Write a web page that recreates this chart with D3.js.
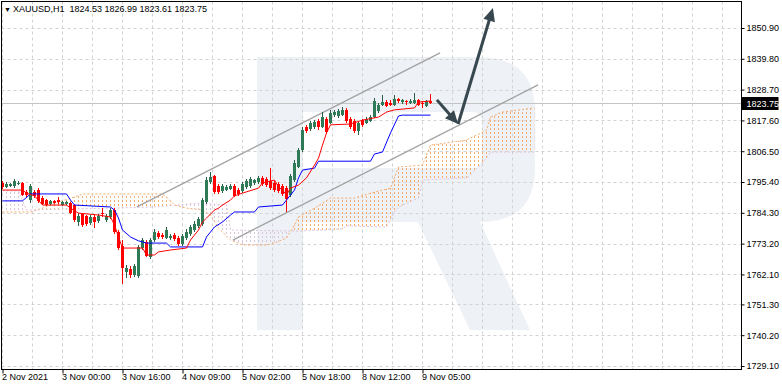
<!DOCTYPE html>
<html>
<head>
<meta charset="utf-8">
<script src="https://cdnjs.cloudflare.com/ajax/libs/d3/7.8.5/d3.min.js"></script>
<style>
  html, body { margin: 0; padding: 0; background: #fff; }
  svg { display: block; font-family: "Liberation Sans", Arial, sans-serif; }
</style>
</head>
<body>
<svg id="canvas" width="782" height="389"></svg>
<script>
// XAUUSD H1 candles, 2 Nov 2021 .. 9 Nov 2021
let opens = [
  1795.1, 1793.6, 1794.0, 1794.0, 1794.7, 1795.1, 1791.8, 1788.9, 1791.8, 1792.5,
  1789.6, 1788.9, 1787.5, 1788.6, 1788.9, 1787.1, 1787.5, 1787.8, 1787.1, 1781.0,
  1783.9, 1783.2, 1780.6, 1782.8, 1781.4, 1784.2, 1781.7, 1782.8, 1785.3, 1777.4,
  1772.3, 1763.0, 1764.1, 1761.9, 1761.5, 1771.6, 1773.8, 1768.4, 1774.5, 1777.0,
  1776.3, 1775.2, 1775.2, 1776.3, 1775.2, 1773.1, 1775.2, 1776.7, 1778.1, 1779.6,
  1780.3, 1788.2, 1795.4, 1797.6, 1794.0, 1792.2, 1792.5, 1792.9, 1794.0, 1792.5,
  1792.2, 1793.6, 1794.0, 1795.1, 1795.4, 1796.9, 1796.5, 1795.8, 1795.1, 1794.7,
  1794.0, 1793.2, 1790.7, 1796.1, 1800.8, 1806.9, 1815.2, 1814.5, 1815.2, 1817.4,
  1815.2, 1818.1, 1816.7, 1819.6, 1819.2, 1819.6, 1821.4, 1818.1, 1817.4, 1813.8,
  1817.7, 1816.7, 1817.4, 1818.8, 1821.0, 1823.2, 1824.2, 1823.9, 1823.2, 1825.3,
  1824.2, 1824.6, 1823.9, 1823.9, 1825.0, 1823.9, 1822.8, 1824.53
];
let highs = [
  1795.8, 1795.4, 1795.1, 1796.5, 1795.8, 1795.4, 1792.5, 1794.7, 1792.5, 1793.2,
  1790.4, 1789.3, 1788.9, 1788.9, 1790.0, 1788.6, 1788.6, 1788.2, 1787.5, 1784.2,
  1784.2, 1783.5, 1783.5, 1783.9, 1783.9, 1786.0, 1783.9, 1786.0, 1786.0, 1778.1,
  1774.5, 1765.5, 1765.1, 1765.9, 1772.7, 1775.2, 1774.5, 1775.2, 1778.5, 1777.7,
  1777.0, 1779.2, 1776.7, 1777.0, 1775.9, 1776.7, 1778.5, 1779.9, 1781.4, 1782.8,
  1789.6, 1797.2, 1799.0, 1797.9, 1794.7, 1794.7, 1794.3, 1794.7, 1794.7, 1793.2,
  1795.4, 1796.5, 1797.2, 1796.5, 1797.6, 1797.6, 1797.2, 1800.5, 1795.8, 1795.4,
  1794.7, 1794.0, 1798.3, 1803.3, 1807.7, 1815.2, 1815.9, 1817.4, 1817.7, 1818.1,
  1820.6, 1818.8, 1821.4, 1821.4, 1821.7, 1822.4, 1822.1, 1818.8, 1818.1, 1817.4,
  1818.1, 1818.8, 1819.6, 1825.7, 1823.9, 1826.8, 1825.0, 1825.0, 1826.8, 1825.7,
  1825.3, 1825.0, 1825.3, 1827.5, 1825.3, 1824.6, 1825.0, 1826.99
];
let lows = [
  1792.9, 1793.2, 1793.6, 1793.2, 1794.3, 1790.4, 1790.0, 1787.8, 1789.6, 1787.8,
  1787.1, 1786.8, 1787.1, 1787.5, 1787.5, 1786.8, 1787.1, 1783.9, 1781.0, 1779.6,
  1779.2, 1779.6, 1779.9, 1778.8, 1780.6, 1782.8, 1781.0, 1782.1, 1776.7, 1770.9,
  1758.7, 1760.8, 1760.8, 1761.2, 1760.8, 1770.9, 1768.4, 1767.7, 1773.8, 1774.9,
  1774.9, 1774.9, 1774.5, 1774.1, 1772.3, 1772.3, 1774.5, 1775.9, 1777.4, 1778.8,
  1779.6, 1787.5, 1794.7, 1791.1, 1791.1, 1791.4, 1792.2, 1792.5, 1790.0, 1790.4,
  1791.4, 1792.9, 1793.2, 1794.3, 1794.7, 1794.0, 1793.6, 1792.5, 1791.8, 1791.4,
  1790.4, 1784.6, 1790.0, 1795.4, 1800.5, 1806.2, 1813.1, 1813.8, 1814.5, 1814.1,
  1814.9, 1812.7, 1816.3, 1818.8, 1818.5, 1819.2, 1816.7, 1814.5, 1813.1, 1812.3,
  1815.2, 1816.3, 1817.0, 1818.5, 1820.3, 1822.8, 1822.4, 1822.8, 1822.8, 1823.9,
  1823.5, 1823.2, 1823.5, 1823.5, 1822.8, 1822.1, 1822.4, 1823.61
];
let closes = [
  1793.6, 1794.7, 1794.7, 1795.8, 1795.1, 1790.7, 1790.7, 1794.0, 1790.4, 1788.6,
  1787.5, 1787.1, 1788.6, 1787.8, 1788.2, 1788.2, 1788.2, 1784.2, 1781.7, 1783.2,
  1779.9, 1780.3, 1782.8, 1781.0, 1783.2, 1783.9, 1783.2, 1785.3, 1777.4, 1771.6,
  1764.4, 1764.4, 1761.9, 1765.1, 1772.0, 1774.5, 1768.7, 1774.5, 1777.4, 1775.6,
  1775.6, 1778.1, 1775.9, 1774.9, 1773.1, 1775.9, 1777.4, 1779.2, 1780.3, 1782.1,
  1788.9, 1796.1, 1797.2, 1791.8, 1791.8, 1794.0, 1793.6, 1794.0, 1790.4, 1791.1,
  1794.7, 1795.8, 1796.5, 1796.1, 1796.9, 1794.7, 1794.3, 1793.2, 1792.5, 1792.2,
  1791.1, 1789.3, 1797.6, 1802.3, 1806.9, 1814.1, 1813.8, 1816.7, 1817.0, 1815.2,
  1818.8, 1813.4, 1820.3, 1820.6, 1821.0, 1821.4, 1817.4, 1815.2, 1813.8, 1816.7,
  1816.0, 1818.1, 1818.8, 1824.6, 1823.2, 1824.2, 1822.8, 1823.2, 1825.3, 1824.6,
  1825.0, 1824.2, 1824.6, 1825.0, 1823.2, 1823.5, 1824.6, 1823.75
];

// Ichimoku lines as [bar, price] vertices
let tenkan = [
  [0, 1792.5], [5, 1792.5], [6, 1791.4], [8, 1790.4], [10, 1787.1], [16, 1787.1], [17, 1786.0],
  [19, 1784.2], [24, 1783.5], [27, 1782.8], [28, 1779.9], [29, 1775.6], [30, 1771.6], [35, 1771.6],
  [36, 1769.1], [38, 1769.1], [39, 1770.2], [42, 1770.9], [46, 1771.6], [47, 1774.5], [49, 1778.1],
  [50, 1781.0], [51, 1782.4], [53, 1785.3], [54, 1786.0], [55, 1787.1], [57, 1788.9], [58, 1790.4],
  [60, 1791.4], [64, 1793.2], [65, 1795.1], [68, 1796.1], [69, 1793.6], [70, 1792.5], [71, 1790.7],
  [72, 1793.2], [74, 1794.3], [76, 1796.9], [78, 1801.5], [79, 1804.0], [80, 1808.7], [81, 1813.1],
  [82, 1816.0], [87, 1816.3], [90, 1817.7], [94, 1818.8], [96, 1820.6], [98, 1821.4], [103, 1822.1],
  [104, 1824.2], [107, 1824.6]
];
let kijun = [
  [0, 1788.6], [5, 1788.6], [7, 1791.1], [16, 1791.1], [17, 1788.9], [18, 1787.1], [27, 1786.4],
  [28, 1785.3], [29, 1782.4], [30, 1778.1], [32, 1775.6], [34, 1774.2], [36, 1773.4], [41, 1773.4],
  [42, 1772.0], [50, 1772.0], [51, 1775.6], [52, 1777.4], [53, 1779.2], [55, 1781.0], [57, 1783.5],
  [58, 1784.6], [63, 1784.6], [64, 1786.4], [70, 1787.1], [71, 1788.9], [73, 1792.5], [74, 1796.9],
  [75, 1799.7], [78, 1800.4], [79, 1802.9], [92, 1802.9], [93, 1805.5], [95, 1806.2], [97, 1813.1],
  [99, 1819.2], [100, 1819.5], [107, 1819.5]
];
let spanA = [
  [0, 1784.6], [7, 1784.6], [10, 1786.0], [14, 1788.2], [18, 1790.0], [20, 1791.1], [40, 1791.1],
  [41, 1790.0], [43, 1787.1], [46, 1786.0], [50, 1785.3], [52, 1783.5], [54, 1778.8], [57, 1774.5],
  [60, 1772.7], [66, 1772.7], [68, 1773.4], [71, 1775.2], [73, 1779.9], [74, 1782.8], [78, 1786.0],
  [82, 1789.6], [88, 1789.6], [92, 1791.4], [97, 1793.2], [99, 1800.8], [105, 1801.5], [107, 1808.7],
  [116, 1810.5], [117, 1811.3], [121, 1814.0], [122, 1818.8], [125, 1820.6], [133, 1822.1]
];
let spanB = [
  [0, 1792.2], [4, 1792.2], [6, 1785.3], [27, 1786.0], [38, 1786.4], [49, 1787.8], [56, 1787.1],
  [57, 1778.1], [74, 1777.7], [85, 1778.5], [86, 1779.6], [96, 1779.2], [98, 1784.6], [99, 1786.4],
  [104, 1789.6], [105, 1796.1], [116, 1796.9], [117, 1797.9], [121, 1804.0], [122, 1806.2], [133, 1806.2]
];

// channel and forecast arrows, [bar, price]
let channelUpper = [[33.6, 1786.4], [109.4, 1841.9]];
let channelLower = [[57.6, 1774.5], [133.9, 1830.4]];
let arrowDown = [[108.6, 1825.0], [113.9, 1816.3]];
let arrowUp = [[113.9, 1816.3], [122.6, 1858.1]];

let priceTicks = [1850.90, 1839.80, 1828.70, 1817.60, 1806.50, 1795.40, 1784.30, 1773.20, 1762.10, 1751.30, 1740.20, 1729.10];
let timeTickBars = [0, 15, 30, 45, 60, 75, 90, 105];
let timeLabels = ["2 Nov 2021", "3 Nov 00:00", "3 Nov 16:00", "4 Nov 09:00", "5 Nov 02:00", "5 Nov 18:00", "8 Nov 12:00", "9 Nov 05:00"];

let plot = { left: 1.5, top: 1.5, right: 741.5, bottom: 369.5 };
let bullColor = "#2f7a56";
let bearColor = "#ff0000";
let arrowColor = "#37474f";

let xScale = d3.scaleLinear().domain([0, 100]).range([2.5, 402.5]);
let yScale = d3.scaleLinear().domain([1729.1, 1850.9]).range([366, 28]);

let svg = d3.select("#canvas");
let defs = svg.append("defs");

defs.append("clipPath").attr("id", "plotClip")
  .append("rect")
  .attr("x", plot.left).attr("y", plot.top)
  .attr("width", plot.right - plot.left).attr("height", plot.bottom - plot.top);

// kumo is drawn MT4 style: a dotted column for every bar
let makePattern = (id, color) => {
  let p = defs.append("pattern")
    .attr("id", id)
    .attr("patternUnits", "userSpaceOnUse")
    .attr("width", 4).attr("height", 4);
  p.append("rect").attr("x", 2).attr("y", 0).attr("width", 1).attr("height", 2).attr("fill", color);
};
makePattern("kumoUp", "#f5ab6c");
makePattern("kumoDown", "#dcc4dc");

let areaBelow = d3.area().x((d) => xScale(d[0])).y0(plot.bottom).y1((d) => yScale(d[1]));
let areaAbove = d3.area().x((d) => xScale(d[0])).y0(plot.top).y1((d) => yScale(d[1]));
defs.append("clipPath").attr("id", "belowA").append("path").attr("d", areaBelow(spanA));
defs.append("clipPath").attr("id", "belowB").append("path").attr("d", areaBelow(spanB));

let chart = svg.append("g").attr("clip-path", "url(#plotClip)");

// watermark logo
chart.append("path")
  .attr("d", "M257,57 H478 Q535,57 535,112 V168 Q535,222 480,222 L530,330 H470 L418,222 H303 V330 H257 Z M303,112 V168 H472 Q482,168 482,158 V122 Q482,112 472,112 Z")
  .attr("fill", "#eef1f6")
  .attr("fill-rule", "evenodd");

// grid
let vGrid = d3.range(0, 25).map((k) => k * 7.5);
chart.append("g").selectAll("line").data(priceTicks).enter().append("line")
  .attr("x1", plot.left).attr("x2", plot.right)
  .attr("y1", (d) => Math.round(yScale(d)) + 0.5).attr("y2", (d) => Math.round(yScale(d)) + 0.5)
  .attr("stroke", "#d2d2d2").attr("stroke-dasharray", "3,3");
chart.append("g").selectAll("line").data(vGrid).enter().append("line")
  .attr("x1", (d) => xScale(d)).attr("x2", (d) => xScale(d))
  .attr("y1", plot.top).attr("y2", plot.bottom)
  .attr("stroke", "#d2d2d2").attr("stroke-dasharray", "3,3");

// kumo
chart.append("g").attr("clip-path", "url(#belowA)")
  .append("path").attr("d", areaAbove(spanB)).attr("fill", "url(#kumoUp)");
chart.append("g").attr("clip-path", "url(#belowB)")
  .append("path").attr("d", areaAbove(spanA)).attr("fill", "url(#kumoDown)");

let linePath = d3.line().x((d) => xScale(d[0])).y((d) => yScale(d[1]));
chart.append("path").attr("d", linePath(spanA)).attr("fill", "none")
  .attr("stroke", "#f5ab6c").attr("stroke-width", 1).attr("stroke-dasharray", "2,2");
chart.append("path").attr("d", linePath(spanB)).attr("fill", "none")
  .attr("stroke", "#dcc4dc").attr("stroke-width", 1).attr("stroke-dasharray", "2,2");

// bid line
let last = closes.length - 1;
let bidY = Math.round(yScale(closes[last])) + 0.5;
chart.append("line")
  .attr("x1", plot.left).attr("x2", plot.right)
  .attr("y1", bidY).attr("y2", bidY)
  .attr("stroke", "#c4c4c4");

// channel
[channelUpper, channelLower].forEach((pts) => {
  chart.append("path").attr("d", linePath(pts)).attr("fill", "none")
    .attr("stroke", "#a3a3a3").attr("stroke-width", 1.4);
});

// candles
let bars = d3.range(closes.length).map((i) => ({ i: i, o: opens[i], h: highs[i], l: lows[i], c: closes[i] }));
let candle = chart.append("g").attr("shape-rendering", "crispEdges")
  .selectAll("g").data(bars).enter().append("g");
candle.append("line")
  .attr("x1", (d) => xScale(d.i)).attr("x2", (d) => xScale(d.i))
  .attr("y1", (d) => yScale(d.h)).attr("y2", (d) => yScale(d.l))
  .attr("stroke", (d) => (d.c >= d.o ? "#2b5e47" : bearColor));
candle.append("rect")
  .attr("x", (d) => xScale(d.i) - 1.5)
  .attr("width", 3)
  .attr("y", (d) => yScale(Math.max(d.o, d.c)))
  .attr("height", (d) => Math.max(1, Math.abs(yScale(d.o) - yScale(d.c))))
  .attr("fill", (d) => (d.c >= d.o ? bullColor : bearColor));

// tenkan / kijun
chart.append("path").attr("d", linePath(kijun)).attr("fill", "none").attr("stroke", "#0000ff").attr("stroke-width", 1);
chart.append("path").attr("d", linePath(tenkan)).attr("fill", "none").attr("stroke", "#ff0000").attr("stroke-width", 1);

// forecast arrows
let drawArrow = (pts) => {
  let x1 = xScale(pts[0][0]), y1 = yScale(pts[0][1]);
  let x2 = xScale(pts[1][0]), y2 = yScale(pts[1][1]);
  let ang = Math.atan2(y2 - y1, x2 - x1);
  let len = 13, half = 6;
  let bx = x2 - len * Math.cos(ang), by = y2 - len * Math.sin(ang);
  chart.append("line")
    .attr("x1", x1).attr("y1", y1).attr("x2", bx + 2 * Math.cos(ang)).attr("y2", by + 2 * Math.sin(ang))
    .attr("stroke", arrowColor).attr("stroke-width", 3);
  chart.append("polygon")
    .attr("points", [
      [x2, y2],
      [bx + half * Math.sin(ang), by - half * Math.cos(ang)],
      [bx - half * Math.sin(ang), by + half * Math.cos(ang)]
    ].map((p) => p.join(",")).join(" "))
    .attr("fill", arrowColor);
};
drawArrow(arrowDown);
drawArrow(arrowUp);

// frame
svg.append("rect")
  .attr("x", plot.left).attr("y", plot.top)
  .attr("width", plot.right - plot.left).attr("height", plot.bottom - plot.top)
  .attr("fill", "none").attr("stroke", "#000");

// price axis
let yAxis = d3.axisRight(yScale)
  .tickValues(priceTicks)
  .tickSize(3)
  .tickPadding(2)
  .tickFormat((d) => d.toFixed(2));
let yAxisG = svg.append("g").attr("transform", "translate(" + plot.right + ",0)").call(yAxis);
yAxisG.select(".domain").remove();
yAxisG.selectAll("text").attr("font-size", 9).attr("fill", "#000").attr("font-family", "Liberation Sans, Arial, sans-serif");

// time axis
let xAxis = d3.axisBottom(xScale)
  .tickValues(timeTickBars)
  .tickSize(4)
  .tickPadding(0)
  .tickFormat((d, i) => timeLabels[i]);
let xAxisG = svg.append("g").attr("transform", "translate(0," + plot.bottom + ")").call(xAxis);
xAxisG.select(".domain").remove();
xAxisG.selectAll("text")
  .attr("text-anchor", "start").attr("x", -1)
  .attr("font-size", 9).attr("fill", "#000").attr("font-family", "Liberation Sans, Arial, sans-serif");

// current price tag
let tag = svg.append("g");
tag.append("rect")
  .attr("x", plot.right).attr("y", bidY - 6.5)
  .attr("width", 37).attr("height", 13)
  .attr("fill", "#000");
tag.append("text")
  .attr("x", plot.right + 5).attr("y", bidY + 3.5)
  .attr("font-size", 9).attr("fill", "#fff")
  .text(closes[last].toFixed(2));

// title
let title = svg.append("text").attr("x", 4).attr("y", 12).attr("font-size", 9).attr("fill", "#000")
  .attr("xml:space", "preserve");
title.append("tspan").attr("font-size", 7).text("\u25BC ");
title.append("tspan").text(
  "XAUUSD,H1  " + [opens[last], highs[last], lows[last], closes[last]].map((v) => v.toFixed(2)).join(" ")
);
</script>
</body>
</html>
